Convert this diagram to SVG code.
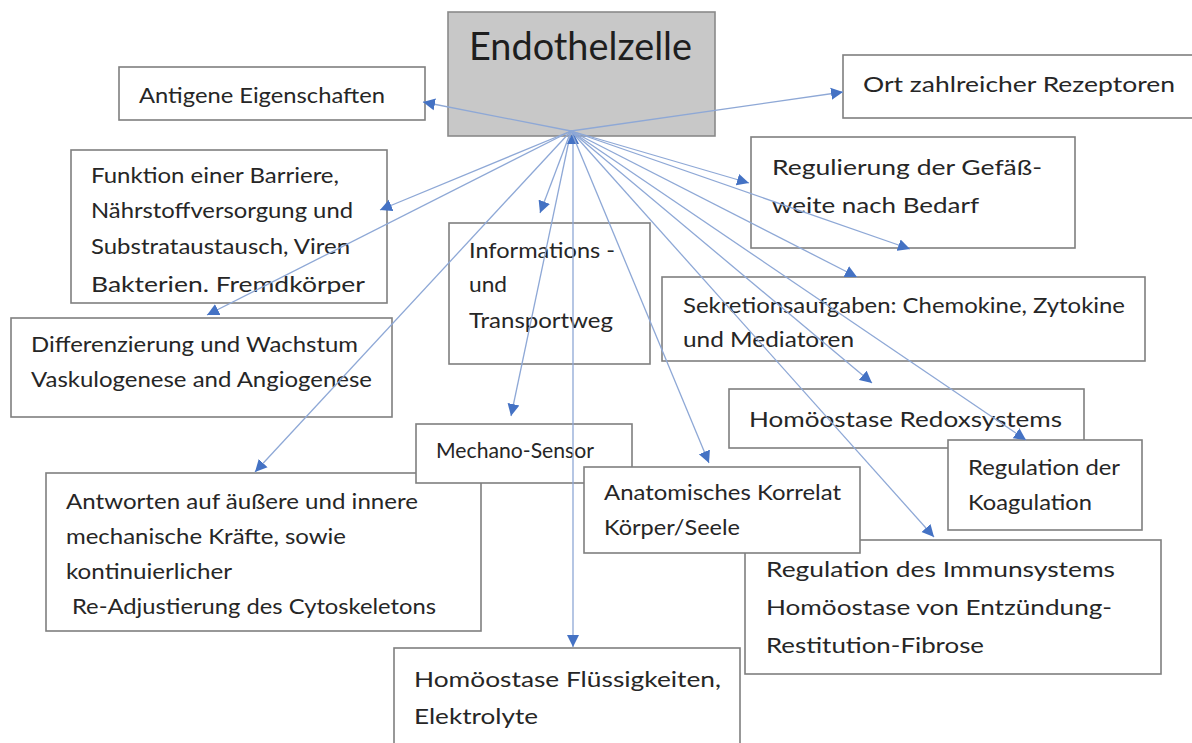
<svg xmlns="http://www.w3.org/2000/svg" width="1192" height="743" viewBox="0 0 1192 743">
<style>
.box{fill:#ffffff;stroke:#7f7f7f;stroke-width:1.6}
.hub{fill:#c8c8c8;stroke:#8a8a8a;stroke-width:1.6}
text{font-family:Lato,"Liberation Sans",sans-serif;font-size:22px;fill:#262626}
.big{font-size:38px;fill:#1e1e1e}
.con line{stroke:#8ea8d6;stroke-width:1.3;fill:none;marker-end:url(#ah)}
</style>
<defs>
<marker id="ah" viewBox="0 0 10 10" refX="10" refY="5" markerUnits="userSpaceOnUse" markerWidth="12" markerHeight="13" orient="auto-start-reverse">
<path d="M0,0 L10,5 L0,10 z" fill="#4472c4"/>
</marker>
<clipPath id="cf"><rect x="71" y="150" width="316" height="144"/></clipPath>
</defs>
<rect width="1192" height="743" fill="#ffffff"/>

<g id="endothelzelle">
<rect class="hub" x="448" y="12" width="267" height="124"/>
<text class="big" x="469" y="60" textLength="223" lengthAdjust="spacingAndGlyphs">Endothelzelle</text>
</g>

<g id="antigene">
<rect class="box" x="119" y="67" width="306" height="53"/>
<text x="139" y="103" textLength="246" lengthAdjust="spacingAndGlyphs">Antigene Eigenschaften</text>
</g>

<g id="ort">
<rect class="box" x="843" y="55" width="360" height="63"/>
<text x="863" y="92" textLength="312" lengthAdjust="spacingAndGlyphs">Ort zahlreicher Rezeptoren</text>
</g>

<g id="funktion">
<rect class="box" x="71" y="150" width="316" height="153"/>
<text x="91" y="183" textLength="248" lengthAdjust="spacingAndGlyphs">Funktion einer Barriere,</text>
<text x="91" y="218" textLength="262" lengthAdjust="spacingAndGlyphs">Nährstoffversorgung und</text>
<text x="91" y="254" textLength="259" lengthAdjust="spacingAndGlyphs">Substrataustausch, Viren</text>
<text x="91" y="292" textLength="274" lengthAdjust="spacingAndGlyphs" clip-path="url(#cf)">Bakterien. Fremdkörper</text>
</g>

<g id="differenzierung">
<rect class="box" x="11" y="318" width="381" height="99"/>
<text x="31" y="352" textLength="327" lengthAdjust="spacingAndGlyphs">Differenzierung und Wachstum</text>
<text x="31" y="387" textLength="341" lengthAdjust="spacingAndGlyphs">Vaskulogenese and Angiogenese</text>
</g>

<g id="informations">
<rect class="box" x="449" y="223" width="201" height="141"/>
<text x="469" y="258" textLength="146" lengthAdjust="spacingAndGlyphs">Informations -</text>
<text x="469" y="292" textLength="38" lengthAdjust="spacingAndGlyphs">und</text>
<text x="469" y="328" textLength="144" lengthAdjust="spacingAndGlyphs">Transportweg</text>
</g>

<g id="regulierung">
<rect class="box" x="751" y="137" width="324" height="111"/>
<text x="772" y="175" textLength="270" lengthAdjust="spacingAndGlyphs">Regulierung der Gefäß-</text>
<text x="772" y="213" textLength="207" lengthAdjust="spacingAndGlyphs">weite nach Bedarf</text>
</g>

<g id="sekretion">
<rect class="box" x="662" y="277" width="483" height="84"/>
<text x="683" y="313" textLength="442" lengthAdjust="spacingAndGlyphs">Sekretionsaufgaben: Chemokine, Zytokine</text>
<text x="683" y="347" textLength="171" lengthAdjust="spacingAndGlyphs">und Mediatoren</text>
</g>

<g id="redox">
<rect class="box" x="729" y="389" width="355" height="59"/>
<text x="749" y="427" textLength="313" lengthAdjust="spacingAndGlyphs">Homöostase Redoxsystems</text>
</g>

<g id="koagulation">
<rect class="box" x="948" y="440" width="194" height="90"/>
<text x="968" y="475" textLength="152" lengthAdjust="spacingAndGlyphs">Regulation der</text>
<text x="968" y="510" textLength="124" lengthAdjust="spacingAndGlyphs">Koagulation</text>
</g>

<g id="antworten">
<rect class="box" x="46" y="473" width="435" height="158"/>
<text x="66" y="509" textLength="352" lengthAdjust="spacingAndGlyphs">Antworten auf äußere und innere</text>
<text x="66" y="544" textLength="280" lengthAdjust="spacingAndGlyphs">mechanische Kräfte, sowie</text>
<text x="66" y="579" textLength="166" lengthAdjust="spacingAndGlyphs">kontinuierlicher</text>
<text x="72" y="614" textLength="364" lengthAdjust="spacingAndGlyphs">Re-Adjustierung des Cytoskeletons</text>
</g>

<g id="mechano">
<rect class="box" x="416" y="424" width="216" height="59"/>
<text x="436" y="458" textLength="158" lengthAdjust="spacingAndGlyphs">Mechano-Sensor</text>
</g>

<g id="immunsystem">
<rect class="box" x="745" y="540" width="416" height="134"/>
<text x="766" y="577" textLength="349" lengthAdjust="spacingAndGlyphs">Regulation des Immunsystems</text>
<text x="766" y="615" textLength="346" lengthAdjust="spacingAndGlyphs">Homöostase von Entzündung-</text>
<text x="766" y="653" textLength="218" lengthAdjust="spacingAndGlyphs">Restitution-Fibrose</text>
</g>

<g id="anatomisches">
<rect class="box" x="584" y="467" width="276" height="86"/>
<text x="604" y="500" textLength="237" lengthAdjust="spacingAndGlyphs">Anatomisches Korrelat</text>
<text x="604" y="535" textLength="136" lengthAdjust="spacingAndGlyphs">Körper/Seele</text>
</g>

<g id="fluessigkeiten">
<rect class="box" x="394" y="648" width="346" height="100"/>
<text x="414" y="687" textLength="307" lengthAdjust="spacingAndGlyphs">Homöostase Flüssigkeiten,</text>
<text x="414" y="724" textLength="124" lengthAdjust="spacingAndGlyphs">Elektrolyte</text>
</g>

<g id="connectors" class="con">
<line x1="571" y1="131" x2="423" y2="102"/>
<line x1="571" y1="131" x2="843" y2="92"/>
<line x1="571" y1="131" x2="380" y2="210"/>
<line x1="571" y1="131" x2="207" y2="315"/>
<line x1="571" y1="131" x2="540" y2="213"/>
<line x1="571" y1="131" x2="255" y2="472"/>
<line x1="571" y1="131" x2="511" y2="416"/>
<line x1="573" y1="132" x2="573" y2="647" marker-start="url(#ah)"/>
<line x1="571" y1="131" x2="709" y2="463"/>
<line x1="571" y1="131" x2="749" y2="183"/>
<line x1="571" y1="131" x2="910" y2="249"/>
<line x1="571" y1="131" x2="857" y2="277"/>
<line x1="571" y1="131" x2="872" y2="383"/>
<line x1="571" y1="131" x2="1026" y2="440"/>
<line x1="571" y1="131" x2="934" y2="537"/>
</g>
</svg>
